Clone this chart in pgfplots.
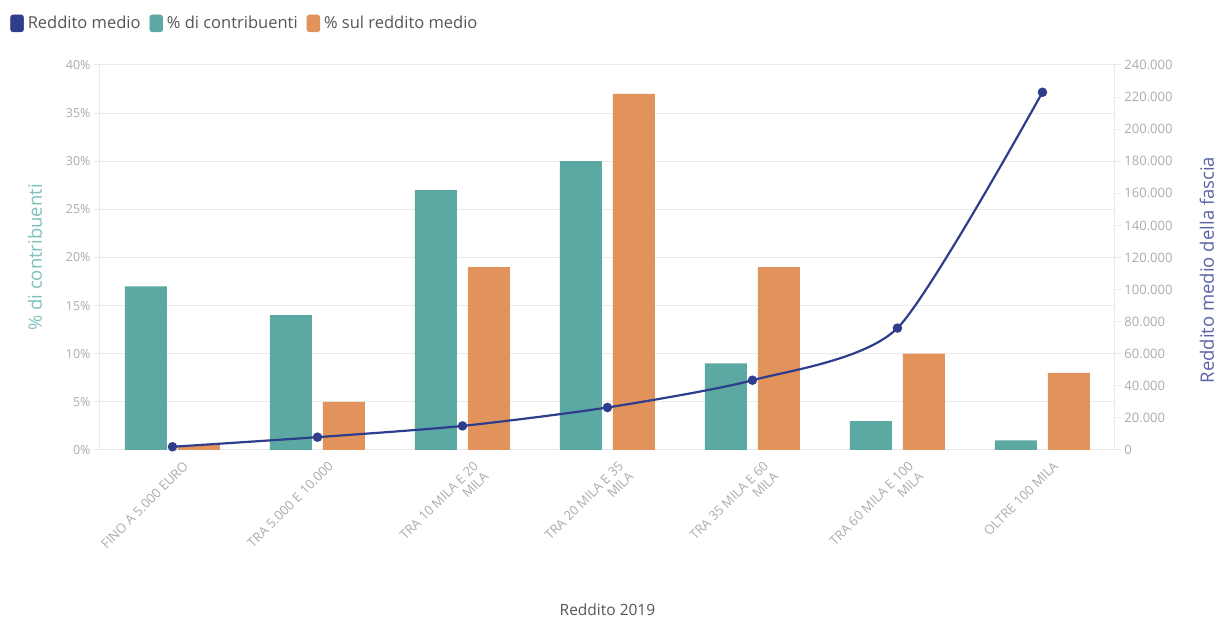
\documentclass[border=0pt]{standalone}
\usepackage{pgfplots}
\pgfplotsset{compat=1.18}
\usepackage{fontspec}
\setmainfont{Open Sans}
\definecolor{teal1}{HTML}{5BA9A2}
\definecolor{teallab}{HTML}{7CC2B9}
\definecolor{orange1}{HTML}{E2935B}
\definecolor{navy1}{HTML}{2E3D8C}
\definecolor{navylab}{HTML}{5A64A8}
\definecolor{gridc}{HTML}{EAEAEA}
\definecolor{tickc}{HTML}{ABABAB}
\definecolor{textc}{HTML}{555555}
\begin{document}
\begin{tikzpicture}
\path[use as bounding box] (-100pt,-170pt) rectangle (1119pt,450pt);
\begin{axis}[
  scale only axis, width=1015pt, height=385pt,
  xmin=-0.5, xmax=6.5, ymin=0, ymax=40,
  axis y line*=left, axis x line*=bottom,
  axis line style={gridc, line width=1pt},
  ytick={0,5,...,40},
  /pgf/number format/assume math mode=true,
  yticklabel={\pgfmathprintnumber{\tick}\%},
  ymajorgrids, grid style={gridc, line width=1pt},
  tick align=outside, major tick length=6pt,
  ytick style={gridc, line width=1pt},
  xtick style={draw=none},
  xtick={0,...,6},
  xticklabels={{FINO A 5.000 EURO},{TRA 5.000 E 10.000},{TRA 10 MILA E 20\\MILA},{TRA 20 MILA E 35\\MILA},{TRA 35 MILA E 60\\MILA},{TRA 60 MILA E 100\\MILA},{OLTRE 100 MILA}},
  x tick label style={rotate=45, anchor=north east, align=right, font=\fontsize{13}{14.5}\selectfont, text=tickc, inner sep=2pt, xshift=6pt, yshift=-8pt},
  y tick label style={font=\fontsize{12.5}{14}\selectfont, text=tickc},
  ylabel={\% di contribuenti},
  ylabel style={font=\fontsize{18.5}{20}\selectfont, text=teallab, at={(-0.064,0.5)}, anchor=center},
  xlabel={Reddito 2019},
  xlabel style={font=\fontsize{15.5}{17}\selectfont, text=textc, at={(0.5,-0.415)}, anchor=center},
  legend style={at={(-0.0885,1.132)}, anchor=north west, draw=none, fill=none,
    legend columns=3, font=\fontsize{16.5}{18}\selectfont, text=textc,
    /tikz/every odd column/.append style={column sep=2pt},
    /tikz/every even column/.append style={column sep=7pt},
    legend cell align=left, inner sep=0pt},
]
\addlegendimage{legend image code/.code={\fill[navy1, rounded corners=2.5pt] (0pt,-8.5pt) rectangle (13pt,8.5pt);}}
\addlegendentry{Reddito medio}
\addlegendimage{legend image code/.code={\fill[teal1, rounded corners=2.5pt] (0pt,-8.5pt) rectangle (13pt,8.5pt);}}
\addlegendentry{\% di contribuenti}
\addlegendimage{legend image code/.code={\fill[orange1, rounded corners=2.5pt] (0pt,-8.5pt) rectangle (13pt,8.5pt);}}
\addlegendentry{\% sul reddito medio}
\addplot[ybar, bar width=42pt, bar shift=-26.5pt, fill=teal1, draw=none, forget plot]
  coordinates {(0,17) (1,14) (2,27) (3,30) (4,9) (5,3) (6,1)};
\addplot[ybar, bar width=42pt, bar shift=26.5pt, fill=orange1, draw=none, forget plot]
  coordinates {(0,0.5) (1,5) (2,19) (3,37) (4,19) (5,10) (6,8)};
\end{axis}
\begin{axis}[
  scale only axis, width=1015pt, height=385pt,
  xmin=-0.5, xmax=6.5, ymin=0, ymax=240000,
  axis y line*=right, axis x line=none,
  axis line style={gridc, line width=1pt},
  ytick={0,20000,...,240000},
  scaled y ticks=false,
  /pgf/number format/assume math mode=true,
  /pgf/number format/1000 sep={.},
  /pgf/number format/fixed,
  tick align=outside, major tick length=6pt,
  ytick style={gridc, line width=1pt},
  y tick label style={font=\fontsize{13}{14}\selectfont, text=tickc},
  ylabel={Reddito medio della fascia},
  ylabel style={font=\fontsize{18.5}{20}\selectfont, text=navylab, at={(1.0906,0.4675)}, anchor=center},
]
\addplot[navy1, line width=2.2pt, smooth, tension=0.4, mark=*, mark size=3.6pt, mark options={fill=navy1}]
  coordinates {(0,2000) (1,8000) (2,15000) (3,26500) (4,43500) (5,76000) (6,223000)};
\end{axis}
\end{tikzpicture}
\end{document}
